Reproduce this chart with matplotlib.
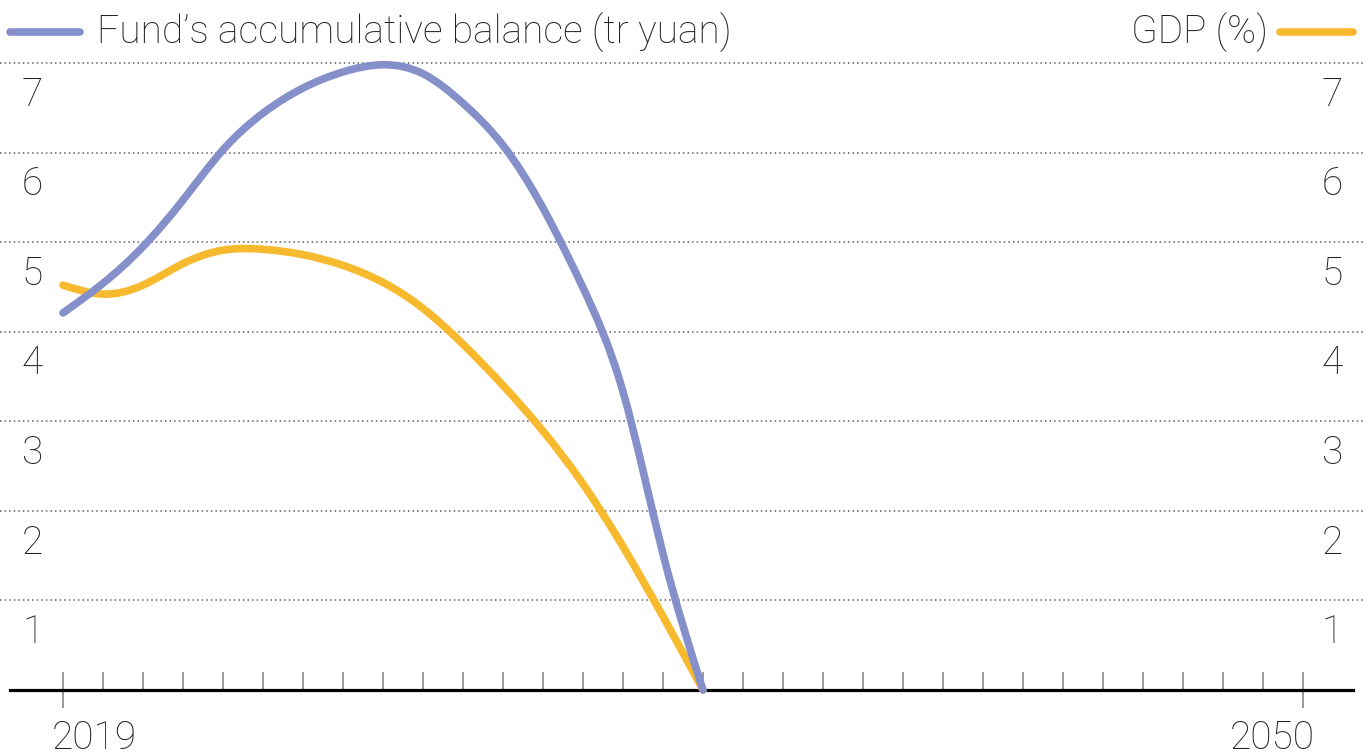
import matplotlib
matplotlib.use("Agg")
import matplotlib.pyplot as plt
from matplotlib.path import Path
from matplotlib.patches import PathPatch
from matplotlib.ticker import FixedLocator, NullFormatter
from matplotlib.transforms import offset_copy
import numpy as np

plt.rcParams['font.family'] = ['Roboto', 'DejaVu Sans']
plt.rcParams['font.weight'] = 'light'

years = list(range(2019, 2036))
fund_balance = [4.21, 4.54, 4.95, 5.47, 6.03, 6.44, 6.72, 6.90, 6.98,
                6.88, 6.55, 6.08, 5.38, 4.49, 3.33, 1.52, 0.0]
gdp = [4.52, 4.42, 4.52, 4.76, 4.91, 4.92, 4.86, 4.74, 4.55,
       4.26, 3.86, 3.40, 2.89, 2.30, 1.60, 0.82, 0.0]
y_labels = [1, 2, 3, 4, 5, 6, 7]
x_labels = [2019, 2050]
fund_label = "Fund\u2019s accumulative balance (tr yuan)"
gdp_label = "GDP (%)"

BLUE = '#8590CA'
YELLOW = '#F7B92D'
FS = 28


def smooth_path(xs, ys):
    # natural cubic spline through the points, drawn as bezier segments
    x = np.asarray(xs, float)
    y = np.asarray(ys, float)
    n = len(x)
    h = np.diff(x)
    A = np.zeros((n, n))
    r = np.zeros(n)
    A[0, 0] = A[-1, -1] = 1
    for i in range(1, n - 1):
        A[i, i - 1] = h[i - 1]
        A[i, i] = 2 * (h[i - 1] + h[i])
        A[i, i + 1] = h[i]
        r[i] = 6 * ((y[i + 1] - y[i]) / h[i] - (y[i] - y[i - 1]) / h[i - 1])
    M = np.linalg.solve(A, r)
    verts = [(x[0], y[0])]
    codes = [Path.MOVETO]
    for i in range(n - 1):
        d0 = (y[i + 1] - y[i]) / h[i] - h[i] * (2 * M[i] + M[i + 1]) / 6
        d1 = (y[i + 1] - y[i]) / h[i] + h[i] * (M[i] + 2 * M[i + 1]) / 6
        verts += [(x[i] + h[i] / 3, y[i] + d0 * h[i] / 3),
                  (x[i + 1] - h[i] / 3, y[i + 1] - d1 * h[i] / 3),
                  (x[i + 1], y[i + 1])]
        codes += [Path.CURVE4] * 3
    return Path(verts, codes)


fig = plt.figure(figsize=(13.63, 7.56), dpi=100)
ax = fig.add_axes([0, 0, 1, 1])
ax.set_xlim(2017.425, 2051.5)
ax.set_ylim(-0.737, 7.703)

for v in y_labels:
    ax.axhline(v, color='#5f5f5f', lw=1.1, ls=(0, (1, 2)), zorder=1)
    ax.annotate(str(v), (0.0161, v), xycoords=ax.get_yaxis_transform(),
                xytext=(0, -23), textcoords='offset points',
                ha='left', va='center', fontsize=FS, color='#222222')
    ax.annotate(str(v), (0.9853, v), xycoords=ax.get_yaxis_transform(),
                xytext=(0, -23), textcoords='offset points',
                ha='right', va='center', fontsize=FS, color='#222222')

for vals, col in [(gdp, YELLOW), (fund_balance, BLUE)]:
    patch = PathPatch(smooth_path(years, vals), fill=False, edgecolor=col,
                      lw=5.5, capstyle='round', joinstyle='round', zorder=3)
    ax.add_patch(patch)

for s in ['top', 'left', 'right']:
    ax.spines[s].set_visible(False)
ax.spines['bottom'].set_position(('data', 0))
ax.spines['bottom'].set_bounds(2017.675, 2051.25)
ax.spines['bottom'].set_linewidth(2.3)
ax.spines['bottom'].set_zorder(2)

ax.xaxis.set_major_locator(FixedLocator(x_labels))
ax.xaxis.set_minor_locator(FixedLocator([y for y in range(2020, 2050)]))
ax.xaxis.set_minor_formatter(NullFormatter())
ax.tick_params(axis='x', which='minor', direction='in', length=13,
               width=1.2, color='#888888')
ax.tick_params(axis='x', which='major', direction='inout', length=26.6,
               width=1.2, color='#888888', labelsize=FS, pad=8,
               labelcolor='#222222')
ax.set_yticks([])

# first year label hangs right of its tick, last one hangs left
fig.canvas.draw()
lbls = ax.get_xticklabels()
lbls[0].set_ha('left')
lbls[0].set_transform(offset_copy(lbls[0].get_transform(), fig=fig, x=-11, units='dots'))
lbls[-1].set_ha('right')
lbls[-1].set_transform(offset_copy(lbls[-1].get_transform(), fig=fig, x=12, units='dots'))

# legend
ly = 1 - 32 / 756
ax.plot([10 / 1363, 80 / 1363], [ly, ly], transform=ax.transAxes, color=BLUE,
        lw=5.5, solid_capstyle='round', clip_on=False)
ax.text(97 / 1363, ly, fund_label, transform=ax.transAxes, ha='left',
        va='center', fontsize=FS, color='#222222')
ax.plot([1280 / 1363, 1353 / 1363], [ly, ly], transform=ax.transAxes,
        color=YELLOW, lw=5.5, solid_capstyle='round', clip_on=False)
ax.text(1268 / 1363, ly, gdp_label, transform=ax.transAxes, ha='right',
        va='center', fontsize=FS, color='#222222')

fig.savefig("out.png", dpi=100, facecolor='white')
